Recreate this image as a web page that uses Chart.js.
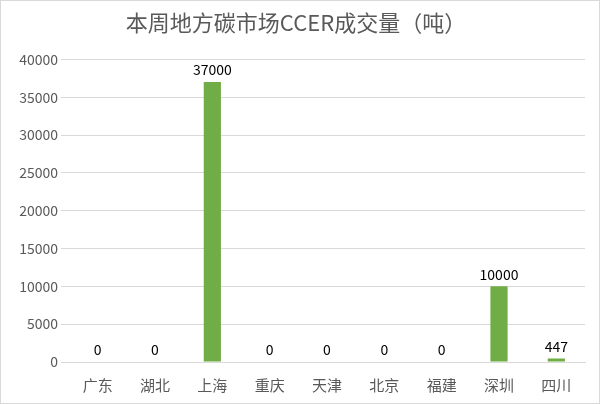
<!DOCTYPE html>
<html><head><meta charset="utf-8">
<script src="https://cdn.jsdelivr.net/npm/chart.js@4/dist/chart.umd.min.js"></script>
<style>html,body{margin:0;padding:0;background:#fff}#w{width:598px;height:402px;border:1px solid #d9d9d9;position:relative}</style>
</head><body><div id="w"><canvas id="c" width="598" height="402"></canvas></div>
<script>
const categories=['广东','湖北','上海','重庆','天津','北京','福建','深圳','四川'];
const values=[0,0,37000,0,0,0,0,10000,447];
const labelsPlugin={id:'lbl',afterDatasetsDraw(ch){const c=ch.ctx;const m=ch.getDatasetMeta(0);c.save();c.font='14px "Noto Sans CJK SC", sans-serif';c.fillStyle='#000';c.textAlign='center';c.textBaseline='bottom';m.data.forEach((b,i)=>{c.fillText(String(values[i]),b.x,b.y-5);});c.restore();}};
new Chart(document.getElementById('c'),{type:'bar',data:{labels:categories,datasets:[{data:values,backgroundColor:'#70ad47',categoryPercentage:1,barPercentage:0.3}]},
options:{responsive:false,animation:false,layout:{padding:{left:6,right:14,top:4,bottom:3}},
plugins:{legend:{display:false},tooltip:{enabled:false},title:{display:true,text:'本周地方碳市场CCER成交量（吨）',color:'#595959',font:{size:22,family:'"Noto Sans CJK SC"',weight:'normal'},padding:{top:4,bottom:24}}},
scales:{y:{min:0,max:40000,afterFit:s=>{s.width=62;},ticks:{stepSize:5000,color:'#595959',callback:v=>String(v),font:{size:14,family:'"Noto Sans CJK SC"'}},grid:{color:'#d9d9d9'},border:{display:false}},
x:{ticks:{color:'#595959',padding:6,font:{size:15,family:'"Noto Sans CJK SC"'}},grid:{display:false},border:{color:'#d9d9d9'}}}},plugins:[labelsPlugin]});
</script></body></html>
